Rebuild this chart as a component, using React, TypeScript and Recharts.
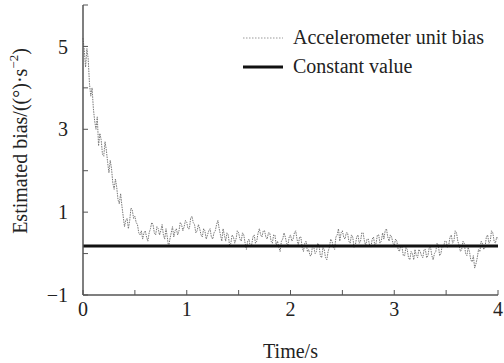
import { Line, LineChart, ReferenceLine, XAxis, YAxis } from "recharts";

const SAMPLE_STEP = 0.0125;
const biasValues = [
  5.2, 4.9, 4.5, 4.95, 4.7, 4.1, 3.8, 4.0, 3.5, 3.2, 3.0, 3.3, 2.6, 2.9, 2.75, 2.4, 2.35, 2.7, 2.5, 2.2,
  1.95, 2.25, 2.05, 1.7, 1.55, 1.8, 1.6, 1.3, 1.2, 1.45, 1.15, 0.9, 0.65, 0.8, 0.85, 0.6, 0.8, 1.1, 1.05, 0.85,
  0.9, 0.75, 0.7, 0.5, 0.45, 0.55, 0.35, 0.5, 0.55, 0.4, 0.3, 0.5, 0.6, 0.75, 0.7, 0.5, 0.45, 0.65, 0.6, 0.45,
  0.55, 0.7, 0.45, 0.35, 0.6, 0.4, 0.15, 0.35, 0.5, 0.65, 0.4, 0.55, 0.6, 0.45, 0.55, 0.75, 0.7, 0.55, 0.65, 0.8,
  0.75, 0.6, 0.6, 0.85, 0.9, 0.75, 0.7, 0.5, 0.55, 0.7, 0.6, 0.45, 0.4, 0.6, 0.55, 0.35, 0.45, 0.55, 0.6, 0.4,
  0.35, 0.5, 0.55, 0.7, 0.8, 0.6, 0.45, 0.3, 0.6, 0.45, 0.3, 0.5, 0.45, 0.2, 0.25, 0.45, 0.4, 0.25, 0.35, 0.55,
  0.5, 0.35, 0.3, 0.5, 0.45, 0.25, 0.1, 0.3, 0.35, 0.15, 0.2, 0.4, 0.45, 0.25, 0.3, 0.5, 0.6, 0.45, 0.4, 0.55,
  0.55, 0.4, 0.35, 0.5, 0.5, 0.3, 0.25, 0.45, 0.45, 0.2, 0.3, 0.15, 0.05, 0.3, 0.35, 0.5, 0.4, 0.25, 0.2, 0.4,
  0.45, 0.3, 0.35, 0.5, 0.55, 0.35, 0.2, 0.4, 0.4, 0.15, 0.05, 0.25, 0.3, 0.05, 0.1, -0.05, -0.05, 0.2, 0.15, 0.0,
  0.05, 0.25, 0.2, -0.05, -0.1, 0.15, 0.1, -0.1, -0.15, 0.05, 0.15, 0.35, 0.3, 0.15, 0.1, 0.4, 0.45, 0.6, 0.3, 0.5,
  0.55, 0.4, 0.35, 0.5, 0.5, 0.3, 0.25, 0.45, 0.4, 0.15, 0.2, 0.4, 0.45, 0.25, 0.3, 0.5, 0.5, 0.3, 0.2, 0.35,
  0.35, 0.2, 0.15, 0.35, 0.4, 0.2, 0.25, 0.45, 0.45, 0.25, 0.3, 0.5, 0.35, 0.55, 0.6, 0.4, 0.3, 0.45, 0.4, 0.25,
  0.2, 0.35, 0.3, 0.1, 0.05, 0.2, 0.15, -0.05, -0.05, 0.15, 0.1, -0.1, -0.15, 0.05, 0.0, -0.15, 0.1, -0.05, -0.1, 0.1,
  0.05, -0.05, -0.1, 0.1, 0.1, -0.1, -0.05, 0.15, 0.15, -0.05, -0.15, 0.0, 0.05, 0.25, 0.2, -0.05, 0.0, 0.2, 0.15, 0.3,
  0.3, 0.15, 0.2, 0.4, 0.45, 0.25, 0.3, 0.55, 0.5, 0.3, 0.2, 0.05, 0.1, 0.3, 0.25, 0.0, -0.05, 0.15, 0.05, -0.15,
  -0.2, -0.05, -0.35, -0.25, -0.1, 0.1, 0.05, 0.3, 0.25, 0.1, 0.15, 0.4, 0.45, 0.25, 0.3, 0.55, 0.5, 0.3, 0.25, 0.4,
  0.35,
];
const constantBias = 0.18;

const timeTicks = [0, 0.5, 1, 1.5, 2, 2.5, 3, 3.5, 4];
const biasTicks = [-1, 0, 1, 2, 3, 4, 5, 6];

const legendItems = [
  { label: "Accelerometer unit bias", color: "#999", width: 1, dash: "1.5 1.5" },
  { label: "Constant value", color: "#111", width: 3, dash: undefined },
];

const data = biasValues.map((bias, i) => ({
  time: Number((i * SAMPLE_STEP).toFixed(4)),
  bias,
}));

const FONT = "'Liberation Serif', 'Times New Roman', serif";
const AXIS = "#555";
const TEXT = "#222";

const fmtTime = (v: number) => (Number.isInteger(v) ? String(v) : "");
const fmtBias = (v: number) =>
  v % 2 === 0 ? "" : v < 0 ? `\u2212${-v}` : String(v);

function BiasTitle() {
  return (
    <text
      x={20}
      y={141}
      transform="rotate(-90, 20, 141)"
      textAnchor="middle"
      dominantBaseline="central"
      fontFamily={FONT}
      fontSize={20}
      fill={TEXT}
    >
      Estimated bias/((°)·s
      <tspan dy={-7} fontSize={13}>
        −2
      </tspan>
      <tspan dy={7}>)</tspan>
    </text>
  );
}

export default function App() {
  return (
    <div
      style={{
        position: "absolute",
        left: 0,
        top: 0,
        width: 504,
        height: 363,
        background: "#fff",
        fontFamily: FONT,
      }}
    >
      <LineChart
        width={504}
        height={363}
        data={data}
        margin={{ top: 5, right: 6, left: 0, bottom: 0 }}
      >
        <XAxis
          dataKey="time"
          type="number"
          domain={[0, 4]}
          ticks={timeTicks}
          interval={0}
          tickFormatter={fmtTime}
          tickSize={-5}
          tickMargin={12}
          height={68}
          axisLine={{ stroke: AXIS, strokeWidth: 1.5 }}
          tickLine={{ stroke: AXIS }}
          tick={{ fill: TEXT, fontSize: 20, fontFamily: FONT }}
          label={{
            value: "Time/s",
            position: "insideBottom",
            offset: 5,
            fill: TEXT,
            fontSize: 20,
            fontFamily: FONT,
          }}
        />
        <XAxis
          xAxisId="top"
          orientation="top"
          type="number"
          domain={[0, 4]}
          allowDataOverflow
          ticks={timeTicks}
          interval={0}
          tick={false}
          tickSize={-5}
          height={0}
          axisLine={{ stroke: AXIS, strokeWidth: 1.5 }}
          tickLine={{ stroke: AXIS }}
        />
        <YAxis
          type="number"
          domain={[-1, 6]}
          ticks={biasTicks}
          interval={0}
          tickFormatter={fmtBias}
          tickSize={-5}
          tickMargin={20}
          width={83}
          axisLine={{ stroke: AXIS, strokeWidth: 1.5 }}
          tickLine={{ stroke: AXIS }}
          tick={{ fill: TEXT, fontSize: 20, fontFamily: FONT }}
          label={<BiasTitle />}
        />
        <YAxis
          yAxisId="right"
          orientation="right"
          type="number"
          domain={[-1, 6]}
          allowDataOverflow
          ticks={biasTicks}
          interval={0}
          tick={false}
          tickSize={-5}
          width={0}
          axisLine={{ stroke: AXIS, strokeWidth: 1.5 }}
          tickLine={{ stroke: AXIS }}
        />
        <Line
          dataKey="bias"
          type="linear"
          stroke="#777"
          strokeWidth={1}
          strokeDasharray="1.5 1"
          dot={false}
          isAnimationActive={false}
        />
        <ReferenceLine y={constantBias} stroke="#111" strokeWidth={3} />
      </LineChart>
      <div style={{ position: "absolute", left: 243, top: 23 }}>
        {legendItems.map((item) => (
          <div
            key={item.label}
            style={{ display: "flex", alignItems: "center", height: 29 }}
          >
            <svg width={40} height={10}>
              <line
                x1={0}
                y1={5}
                x2={40}
                y2={5}
                stroke={item.color}
                strokeWidth={item.width}
                strokeDasharray={item.dash}
              />
            </svg>
            <span style={{ marginLeft: 10, fontSize: 20, color: TEXT }}>
              {item.label}
            </span>
          </div>
        ))}
      </div>
    </div>
  );
}
